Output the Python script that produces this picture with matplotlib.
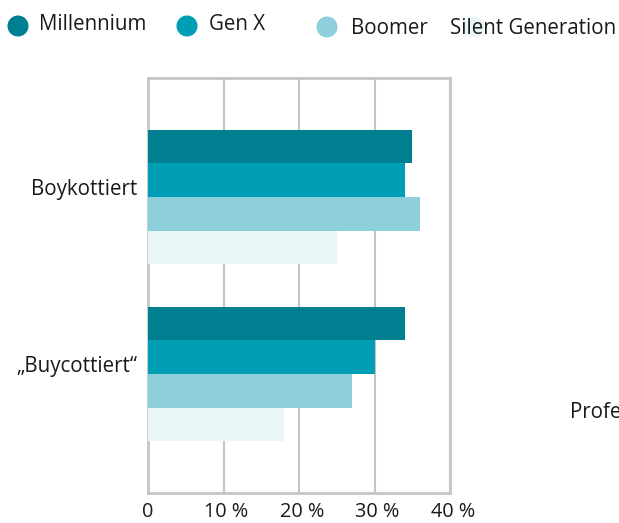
import matplotlib
matplotlib.use("Agg")
import matplotlib.pyplot as plt
import matplotlib.transforms as mtransforms
from matplotlib.patches import Circle
import numpy as np

plt.rcParams['font.family'] = ['Open Sans', 'DejaVu Sans']

categories = ["Boykottiert", "\u201eBuycottiert\u201c"]
series = ["Millennium", "Gen X", "Boomer", "Silent Generation"]
values = {
    "Millennium": [35, 34],
    "Gen X": [34, 30],
    "Boomer": [36, 27],
    "Silent Generation": [25, 18],
}
xticks = [0, 10, 20, 30, 40]
xticklabels = ["0", "10 %", "20 %", "30 %", "40 %"]

colors = ["#007f91", "#009eb4", "#8dd0dc", "#e9f5f7"]
grid_color = "#c8c4c4"
text_color = "#1a1a1a"
FS = 14.8

fig = plt.figure(figsize=(6.19, 5.23), dpi=100)
ax = fig.add_axes([148/619, 1-493/523, 302/619, 415/523])

y = np.arange(len(categories))
bh = 0.19
for i, (s, c) in enumerate(zip(series, colors)):
    ax.barh(y - 1.5*bh + i*bh, values[s], height=bh, color=c, zorder=3, linewidth=0)

ax.set_xlim(0, 40)
ax.set_ylim(1.672, -0.672)
ax.set_xticks(xticks)
ax.set_xticklabels(xticklabels, fontsize=14.3, color=text_color)
ax.set_yticks(y)
ax.set_yticklabels(categories, fontsize=FS, color=text_color)
ax.tick_params(axis='both', length=0)
ax.tick_params(axis='x', pad=6.5)
ax.tick_params(axis='y', pad=8)
offset = mtransforms.ScaledTranslation(0, 10/100, fig.dpi_scale_trans)
for lbl in ax.get_yticklabels():
    lbl.set_transform(lbl.get_transform() + offset)
xoff = mtransforms.ScaledTranslation(3/100, 0, fig.dpi_scale_trans)
for lbl in ax.get_xticklabels()[1:]:
    lbl.set_transform(lbl.get_transform() + xoff)
ax.grid(axis='x', color=grid_color, linewidth=1.5, zorder=0)
for sp in ax.spines.values():
    sp.set_color(grid_color)
    sp.set_linewidth(2)

# legend overlay in pixel coordinates
ov = fig.add_axes([0, 0, 1, 1], zorder=5)
ov.set_xlim(0, 619)
ov.set_ylim(523, 0)
ov.axis('off')
circle_pos = [(18, 26), (187, 26), (327, 27), (474, 27)]
text_pos = [(39, 25), (209, 25), (351, 28), (450, 28)]
for s, c, (cx, cy), (tx, ty) in zip(series, colors, circle_pos, text_pos):
    ov.add_patch(Circle((cx, cy), 10.5, color=c, linewidth=0))
    ov.text(tx, ty, s, fontsize=FS, color=text_color, va='center', ha='left')

ov.text(570, 413, "Profe", fontsize=FS, color=text_color, va='center', ha='left')

fig.savefig("out.png", dpi=100)
